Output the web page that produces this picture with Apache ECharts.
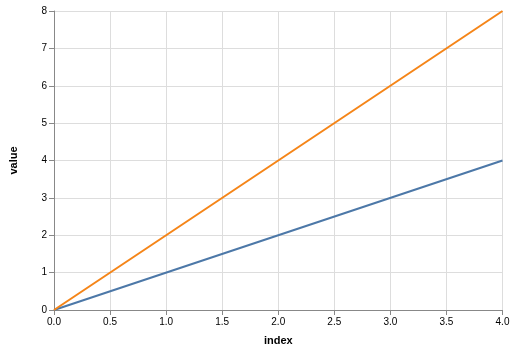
<!DOCTYPE html>
<html><head><meta charset="utf-8">
<script src="https://cdn.jsdelivr.net/npm/echarts@6/dist/echarts.min.js"></script>
<style>html,body{margin:0;padding:0;background:#fff}#c{width:515px;height:351px}</style>
</head><body><div id="c"></div>
<script>
const index = [0, 4];
const seriesA = [0, 4];
const seriesB = [0, 8];
const chart = echarts.init(document.getElementById('c'), null, {renderer: 'canvas'});
const axisCommon = {
  axisLine: {show: true, lineStyle: {color: '#888', width: 1}},
  axisTick: {show: true, length: 5, lineStyle: {color: '#888'}},
  splitLine: {show: true, lineStyle: {color: '#ddd', width: 1}},
  axisLabel: {color: '#000', fontSize: 10, fontFamily: 'Liberation Sans, Arial, sans-serif'},
  nameTextStyle: {color: '#000', fontSize: 11, fontWeight: 'bold', fontFamily: 'Liberation Sans, Arial, sans-serif'}
};
chart.setOption({
  animation: false,
  grid: {left: 52, top: 11, right: 12.5, bottom: 40, containLabel: false},
  xAxis: Object.assign({}, axisCommon, {
    type: 'value', min: 0, max: 4, interval: 0.5,
    name: 'index', nameLocation: 'middle', nameGap: 25,
    axisLabel: Object.assign({}, axisCommon.axisLabel, {margin: 7, formatter: v => v.toFixed(1)})
  }),
  yAxis: Object.assign({}, axisCommon, {
    type: 'value', min: 0, max: 8, interval: 1,
    name: 'value', nameLocation: 'middle', nameGap: 35,
    axisLabel: Object.assign({}, axisCommon.axisLabel, {margin: 7})
  }),
  series: [
    {type: 'line', data: index.map((x, i) => [x, seriesA[i]]), showSymbol: false, lineStyle: {color: '#4c78a8', width: 2}, itemStyle: {color: '#4c78a8'}},
    {type: 'line', data: index.map((x, i) => [x, seriesB[i]]), showSymbol: false, lineStyle: {color: '#f58518', width: 2}, itemStyle: {color: '#f58518'}}
  ]
});
</script></body></html>
